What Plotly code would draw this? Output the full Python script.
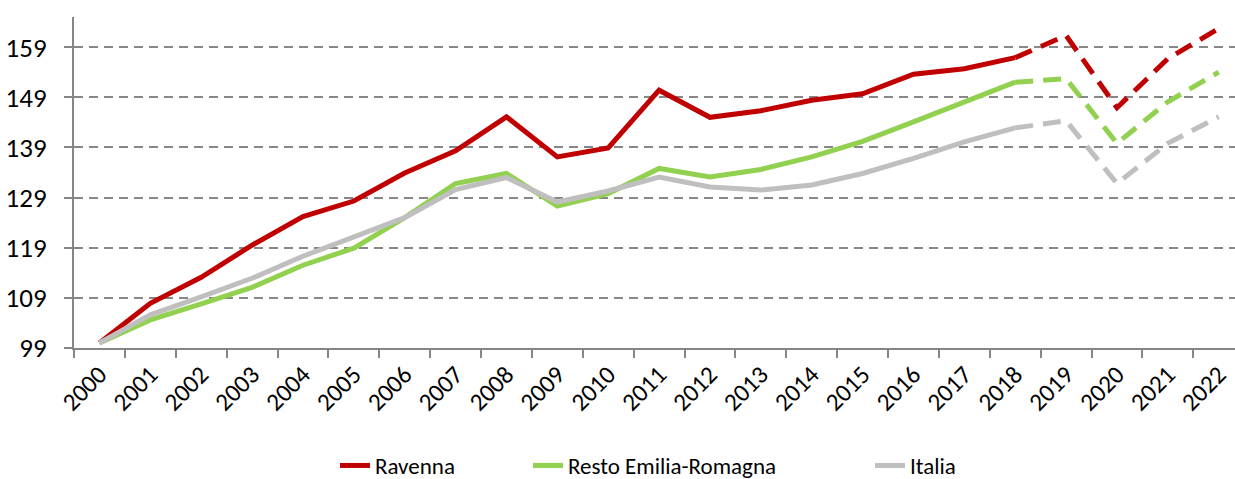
import plotly.graph_objects as go

years = [str(y) for y in range(2000, 2023)]

ravenna = [100.0, 107.9, 113.1, 119.5, 125.2, 128.3, 133.9, 138.3, 145.1, 137.1, 138.9, 150.4,
           145.0, 146.3, 148.4, 149.7, 153.6, 154.7, 156.9, 161.3, 146.9, 156.7, 162.7]
resto_er = [100.0, 104.6, 107.8, 111.1, 115.5, 118.9, 125.0, 131.8, 133.8, 127.3, 129.8, 134.8,
            133.1, 134.6, 137.1, 140.2, 144.1, 148.1, 152.0, 152.7, 139.8, 148.1, 154.0]
italia = [100.0, 105.6, 109.2, 112.9, 117.3, 121.1, 125.0, 130.6, 133.0, 128.1, 130.3, 133.1,
          131.1, 130.5, 131.5, 133.8, 136.8, 140.1, 142.9, 144.3, 131.8, 139.8, 145.1]

# last observed year; after this the series are estimates (dashed)
split = years.index("2018")

SERIES = [
    # name, values, colour, legend id, legend x (container fraction)
    ("Ravenna", ravenna, "#C00000", "legend", 335 / 1235),
    ("Resto Emilia-Romagna", resto_er, "#92D050", "legend2", 528 / 1235),
    ("Italia", italia, "#BFBFBF", "legend3", 870 / 1235),
]

FONT = "Carlito, Calibri, Lato, sans-serif"
GRID = "#878787"
AXIS = "#868686"

fig = go.Figure()

legends = {}
for name, vals, color, leg, lx in SERIES:
    fig.add_trace(go.Scatter(
        x=years[:split + 1], y=vals[:split + 1], mode="lines",
        line=dict(color=color, width=5),
        name=name, legend=leg, showlegend=True,
    ))
    fig.add_trace(go.Scatter(
        x=years[split:], y=vals[split:], mode="lines",
        line=dict(color=color, width=5, dash="18px,10px"),
        name=name, legend=leg, showlegend=False,
    ))
    legends[leg] = dict(
        orientation="h",
        xref="container", yref="container",
        x=lx, xanchor="left",
        y=(479 - 444) / 479, yanchor="top",
        font=dict(size=23),
        bgcolor="rgba(0,0,0,0)",
    )

fig.update_layout(
    width=1235, height=479,
    paper_bgcolor="white", plot_bgcolor="white",
    font=dict(family=FONT, color="black", size=22),
    margin=dict(l=74, r=0, t=17, b=131, autoexpand=False),
    xaxis=dict(
        type="category",
        range=[-0.5, 22.32],
        tickson="boundaries",
        ticks="outside", ticklen=8, tickwidth=2, tickcolor=AXIS,
        showline=True, linecolor=AXIS, linewidth=2,
        showgrid=False, zeroline=False,
        tickangle=-45, tickfont=dict(size=25),
        automargin=False,
    ),
    yaxis=dict(
        range=[99, 165],
        tickvals=[99, 109, 119, 129, 139, 149, 159],
        ticks="outside", ticklen=8, tickwidth=2, tickcolor=AXIS,
        showline=True, linecolor=AXIS, linewidth=2,
        showgrid=True, gridcolor=GRID, gridwidth=2, griddash="9px,6px",
        zeroline=False,
        tickfont=dict(size=27),
        ticklabelstandoff=12,
        automargin=False,
    ),
    **legends,
)

# drop the page's default body margin so the figure sits at the window origin
fig.write_html(
    "out.html",
    config={"displayModeBar": False},
    post_script="document.body.style.margin='0';",
)
